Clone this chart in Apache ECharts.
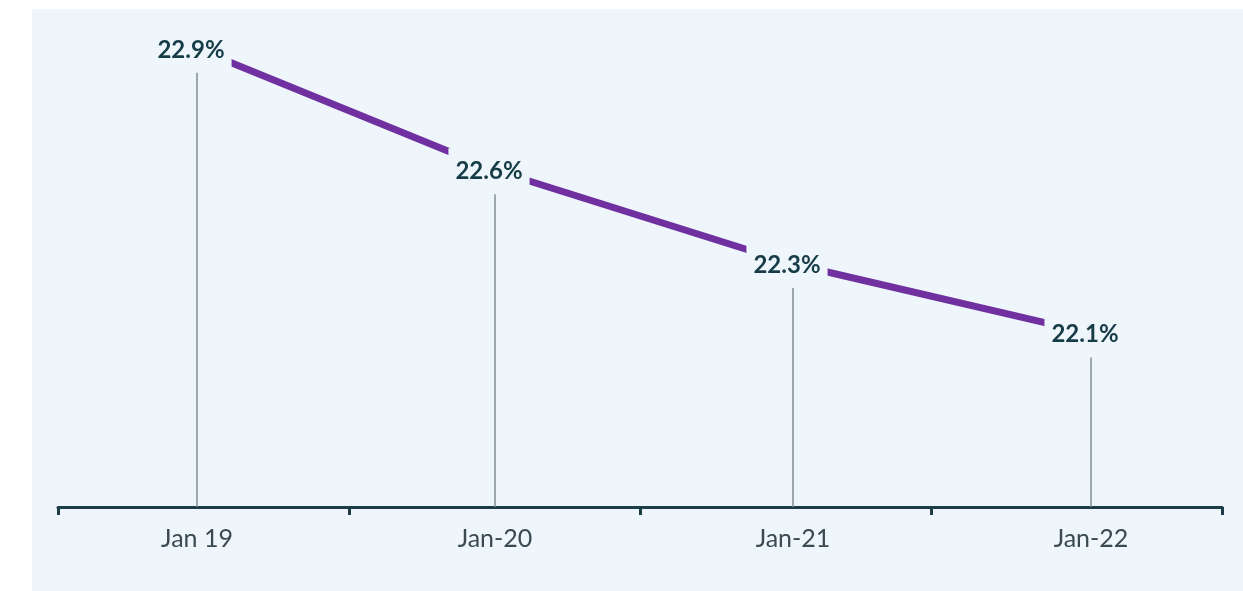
<!DOCTYPE html>
<html>
<head>
<meta charset="utf-8">
<script src="https://cdn.jsdelivr.net/npm/echarts@6/dist/echarts.min.js"></script>
<style>
html,body{margin:0;padding:0;background:#ffffff;}
#chart{width:1243px;height:591px;}
</style>
</head>
<body>
<div id="chart"></div>
<script>
var categories = ['Jan 19', 'Jan-20', 'Jan-21', 'Jan-22'];
var shareValues = [22.92, 22.57, 22.30, 22.10];
var tickSlots = ['', '', '', ''];

var panelColor = 'rgb(238,246,252)';
var chart = echarts.init(document.getElementById('chart'));
chart.setOption({
  backgroundColor: '#ffffff',
  animation: false,
  graphic: [{
    type: 'rect', z: -10, silent: true,
    shape: { x: 32, y: 9, width: 1211, height: 582 },
    style: { fill: panelColor, opacity: 1 }
  }],
  grid: [
    { left: 48, right: 3, top: 21, bottom: 84 },
    { left: 58, right: 21, top: 21, bottom: 84 }
  ],
  xAxis: [
    {
      type: 'category', gridIndex: 0, data: categories, boundaryGap: true,
      axisLine: { show: false }, axisTick: { show: false },
      axisLabel: { color: '#3a4a50', fontFamily: 'Lato', fontSize: 25, margin: 19 }
    },
    {
      type: 'category', gridIndex: 1, data: tickSlots, boundaryGap: true,
      axisLine: { show: true, lineStyle: { color: '#1a3d47', width: 3 } },
      axisTick: { show: true, length: 8, lineStyle: { color: '#1a3d47', width: 3 } },
      axisLabel: { show: false }
    }
  ],
  yAxis: [
    { type: 'value', gridIndex: 0, min: 21.6, max: 23.0, show: false },
    { type: 'value', gridIndex: 1, min: 0, max: 1, show: false }
  ],
  series: [
    {
      type: 'bar', xAxisIndex: 0, yAxisIndex: 0, data: shareValues, z: 1,
      barWidth: 1.5, itemStyle: { color: '#7f8d92' }, silent: true
    },
    {
      type: 'line', xAxisIndex: 0, yAxisIndex: 0, data: shareValues, z: 3,
      symbol: 'circle', symbolSize: 2, showSymbol: true,
      itemStyle: { color: '#7030a0' },
      lineStyle: { color: '#7030a0', width: 7, cap: 'round' },
      label: {
        show: true, position: 'inside', offset: [-6, 1],
        formatter: function (p) { return p.value.toFixed(1) + '%'; },
        color: '#163c47', fontFamily: 'Lato', fontWeight: 'bold', fontSize: 24,
        backgroundColor: panelColor, opacity: 1, padding: [4, 7, 18, 7]
      }
    }
  ]
});
</script>
</body>
</html>
